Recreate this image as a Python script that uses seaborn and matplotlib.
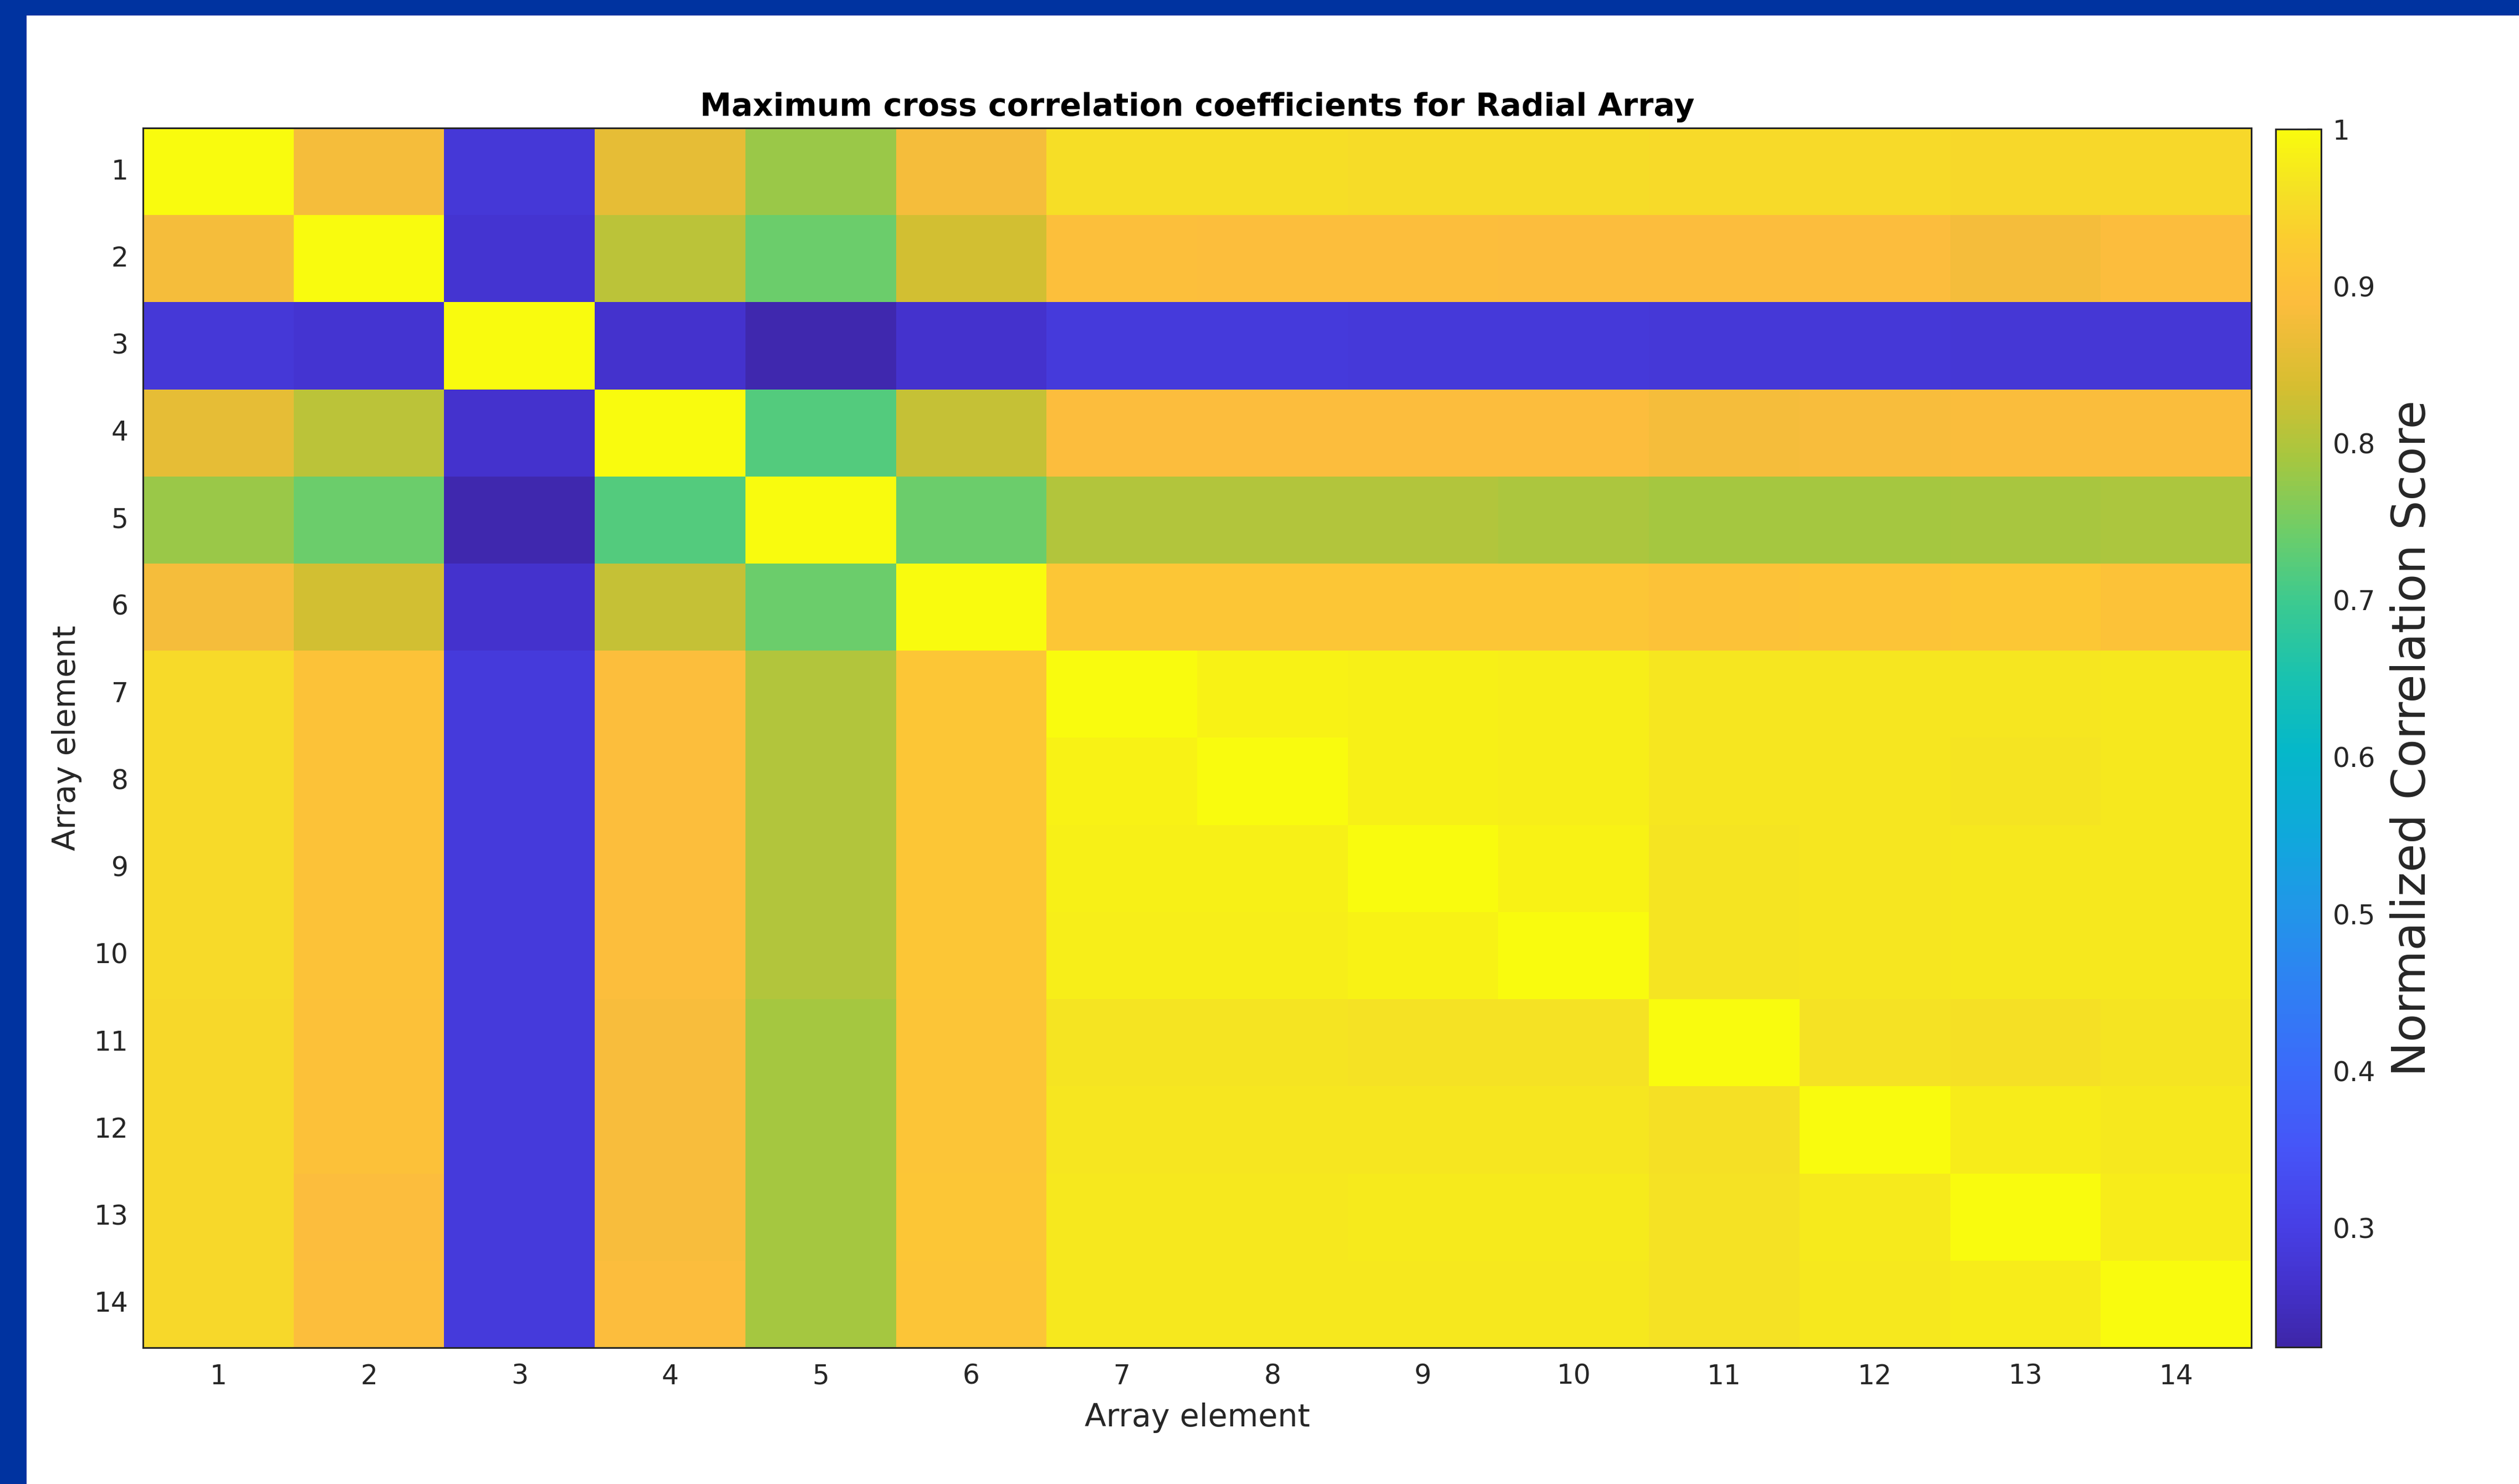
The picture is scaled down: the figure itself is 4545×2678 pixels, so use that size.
import numpy as np
import pandas as pd
import matplotlib
matplotlib.use("Agg")
import matplotlib.pyplot as plt
import seaborn as sns
from matplotlib.colors import LinearSegmentedColormap
from matplotlib.patches import Rectangle

# ---------------- data ----------------
elements = [str(i) for i in range(1, 15)]
row_01 = [1.000, 0.880, 0.280, 0.860, 0.780, 0.880, 0.955, 0.955, 0.953, 0.953, 0.950, 0.950, 0.948, 0.948]
row_02 = [0.880, 1.000, 0.270, 0.810, 0.740, 0.833, 0.895, 0.893, 0.893, 0.890, 0.890, 0.890, 0.880, 0.888]
row_03 = [0.280, 0.270, 1.000, 0.265, 0.232, 0.265, 0.285, 0.285, 0.283, 0.283, 0.280, 0.280, 0.278, 0.278]
row_04 = [0.860, 0.810, 0.265, 1.000, 0.720, 0.820, 0.890, 0.890, 0.890, 0.890, 0.880, 0.882, 0.885, 0.885]
row_05 = [0.780, 0.740, 0.232, 0.720, 1.000, 0.740, 0.800, 0.800, 0.800, 0.795, 0.790, 0.790, 0.793, 0.795]
row_06 = [0.880, 0.833, 0.265, 0.820, 0.740, 1.000, 0.915, 0.915, 0.915, 0.913, 0.905, 0.908, 0.918, 0.905]
row_07 = [0.950, 0.905, 0.285, 0.893, 0.800, 0.915, 1.000, 0.985, 0.982, 0.980, 0.968, 0.968, 0.968, 0.972]
row_08 = [0.950, 0.905, 0.285, 0.893, 0.800, 0.915, 0.985, 1.000, 0.982, 0.980, 0.968, 0.968, 0.965, 0.972]
row_09 = [0.950, 0.905, 0.285, 0.893, 0.800, 0.915, 0.982, 0.982, 1.000, 0.987, 0.965, 0.968, 0.972, 0.972]
row_10 = [0.950, 0.905, 0.285, 0.893, 0.800, 0.915, 0.980, 0.980, 0.987, 1.000, 0.965, 0.968, 0.972, 0.972]
row_11 = [0.948, 0.900, 0.285, 0.883, 0.790, 0.910, 0.965, 0.965, 0.963, 0.963, 1.000, 0.962, 0.960, 0.965]
row_12 = [0.948, 0.900, 0.285, 0.883, 0.790, 0.910, 0.968, 0.968, 0.968, 0.968, 0.960, 1.000, 0.978, 0.972]
row_13 = [0.948, 0.890, 0.285, 0.883, 0.790, 0.913, 0.972, 0.972, 0.975, 0.975, 0.962, 0.975, 1.000, 0.978]
row_14 = [0.948, 0.893, 0.285, 0.888, 0.790, 0.910, 0.972, 0.972, 0.972, 0.972, 0.963, 0.970, 0.978, 1.000]
cbar_ticks = [0.3, 0.4, 0.5, 0.6, 0.7, 0.8, 0.9, 1.0]
cbar_ticklabels = ["0.3", "0.4", "0.5", "0.6", "0.7", "0.8", "0.9", "1"]

title = "Maximum cross correlation coefficients for Radial Array"
xlabel = "Array element"
ylabel = "Array element"
cbar_label = "Normalized Correlation Score"

# ---------------- parula-like colormap ----------------
parula_pts = [
    (0.000, (0.2422, 0.1504, 0.6603)),
    (0.050, (0.2650, 0.1960, 0.8000)),
    (0.100, (0.2780, 0.2500, 0.9000)),
    (0.160, (0.2750, 0.3300, 0.9700)),
    (0.230, (0.2300, 0.4200, 0.9800)),
    (0.300, (0.1800, 0.5100, 0.9500)),
    (0.360, (0.1300, 0.5900, 0.9100)),
    (0.420, (0.0600, 0.6600, 0.8600)),
    (0.490, (0.0200, 0.7200, 0.7900)),
    (0.550, (0.1000, 0.7600, 0.6900)),
    (0.610, (0.2300, 0.7900, 0.5700)),
    (0.670, (0.4300, 0.8050, 0.4100)),
    (0.730, (0.6500, 0.7800, 0.2500)),
    (0.790, (0.8400, 0.7450, 0.1900)),
    (0.860, (0.9900, 0.7400, 0.2400)),
    (0.910, (0.9850, 0.8000, 0.1900)),
    (0.950, (0.9600, 0.8800, 0.1450)),
    (1.000, (0.9763, 0.9831, 0.0538)),
]
parula = LinearSegmentedColormap.from_list("parula_like", parula_pts, N=256)

# ---------------- figure ----------------
sns.set_theme(style="white")
plt.rcParams["font.family"] = ["DejaVu Sans"]
TXT = "#262626"

W, H = 4545, 2678
fig = plt.figure(figsize=(W / 100, H / 100), dpi=100)
fig.patch.set_facecolor("white")

# blue frame (top and left bands)
fig.add_artist(Rectangle((0, 1 - 28 / H), 1, 28 / H, transform=fig.transFigure,
                         facecolor="#0033a0", edgecolor="none", zorder=0))
fig.add_artist(Rectangle((0, 0), 48 / W, 1, transform=fig.transFigure,
                         facecolor="#0033a0", edgecolor="none", zorder=0))

ax = fig.add_axes([258 / W, (H - 2432) / H, (4062 - 258) / W, (2432 - 231) / H])
cax = fig.add_axes([4106 / W, (H - 2431) / H, (4188 - 4106) / W, (2431 - 233) / H])

mat = np.array([row_01, row_02, row_03, row_04, row_05, row_06, row_07,
                row_08, row_09, row_10, row_11, row_12, row_13, row_14])
df = pd.DataFrame(mat, index=elements, columns=elements)

sns.heatmap(df, ax=ax, cbar_ax=cax, cmap=parula, vmin=0.224, vmax=1.0,
            xticklabels=elements, yticklabels=elements,
            cbar_kws={"ticks": cbar_ticks})

# axes styling (MATLAB-like box with inward ticks)
for s in ax.spines.values():
    s.set_visible(True)
    s.set_linewidth(2.2)
    s.set_color(TXT)
ax.tick_params(axis="both", which="major", direction="in", length=27, width=1.6,
               color=TXT, labelcolor=TXT, labelsize=35, top=True, right=True,
               bottom=True, left=True, labeltop=False, labelright=False)
ax.tick_params(axis="x", pad=20)
ax.tick_params(axis="y", pad=19)
plt.setp(ax.get_yticklabels(), rotation=0)
plt.setp(ax.get_xticklabels(), rotation=0)

ax.set_xlabel(xlabel, fontsize=41, color=TXT, labelpad=17)
ax.set_ylabel(ylabel, fontsize=41, color=TXT, labelpad=16)
ax.set_title(title, fontsize=41, fontweight="bold", color="black", pad=16)

# colorbar styling
cb = ax.collections[0].colorbar
cb.outline.set_visible(True)
cb.outline.set_linewidth(2.2)
cb.outline.set_edgecolor(TXT)
cb.set_ticks(cbar_ticks)
cb.set_ticklabels(cbar_ticklabels)
cax.tick_params(direction="in", length=18, width=1.6, color=TXT,
                labelcolor=TXT, labelsize=35, pad=15)
cax.set_ylabel(cbar_label, fontsize=60, color=TXT, labelpad=18)

fig.savefig("out.png", dpi=100, facecolor="white")
